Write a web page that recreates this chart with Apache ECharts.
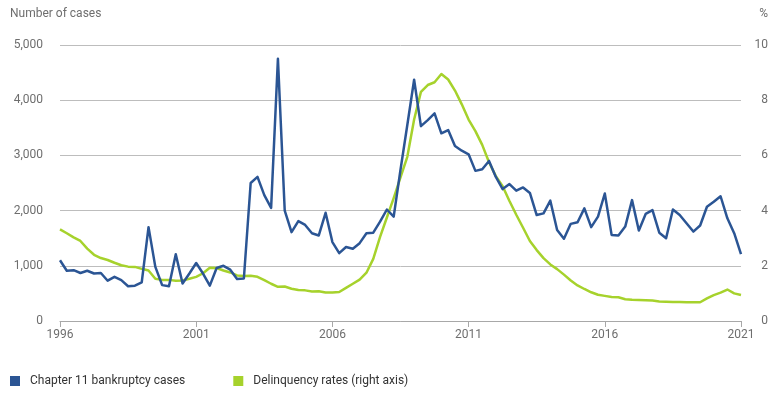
<!DOCTYPE html>
<html>
<head>
<meta charset="utf-8">
<script src="https://cdn.jsdelivr.net/npm/echarts@6/dist/echarts.min.js"></script>
<style>html,body{margin:0;padding:0;background:#fff}#c{width:782px;height:398px}</style>
</head>
<body>
<div id="c"></div>
<script>
const yearLabels = ['1996', '2001', '2006', '2011', '2016', '2021'];
const firstYear = 1996;
const quarterCount = 101;

const bankruptcyCases = [
  1100, 910, 920, 870, 910, 860, 870, 730, 800, 740,
  630, 640, 700, 1700, 980, 650, 630, 1210, 680, 860,
  1050, 860, 640, 960, 1000, 930, 760, 770, 2500, 2610,
  2280, 2050, 4750, 2000, 1610, 1810, 1740, 1590, 1550, 1960,
  1430, 1230, 1340, 1310, 1410, 1590, 1600, 1800, 2020, 1890,
  2740, 3550, 4370, 3530, 3640, 3760, 3400, 3460, 3170, 3085,
  3020, 2720, 2750, 2900, 2610, 2390, 2480, 2360, 2420, 2320,
  1920, 1950, 2180, 1650, 1490, 1760, 1790, 2040, 1700, 1890,
  2310, 1560, 1550, 1710, 2190, 1640, 1940, 2010, 1600, 1500,
  2020, 1920, 1770, 1620, 1730, 2070, 2160, 2260, 1860, 1590,
  1210
];

const delinquencyRates = [
  3.32, 3.18, 3.03, 2.90, 2.62, 2.40, 2.28, 2.21, 2.11, 2.02,
  1.97, 1.96, 1.89, 1.83, 1.53, 1.49, 1.49, 1.46, 1.47, 1.53,
  1.60, 1.73, 1.93, 1.92, 1.83, 1.76, 1.65, 1.63, 1.64, 1.60,
  1.48, 1.35, 1.24, 1.25, 1.17, 1.12, 1.11, 1.07, 1.08, 1.03,
  1.03, 1.05, 1.20, 1.35, 1.50, 1.75, 2.25, 3.05, 3.75, 4.45,
  5.20, 5.95, 7.30, 8.30, 8.55, 8.65, 8.95, 8.75, 8.35, 7.85,
  7.30, 6.88, 6.38, 5.75, 5.25, 4.88, 4.35, 3.85, 3.38, 2.90,
  2.57, 2.28, 2.05, 1.88, 1.68, 1.47, 1.29, 1.16, 1.04, 0.95,
  0.91, 0.87, 0.86, 0.79, 0.77, 0.76, 0.75, 0.74, 0.71, 0.70,
  0.69, 0.69, 0.68, 0.68, 0.68, 0.82, 0.94, 1.03, 1.14, 1.00,
  0.94
];

const categories = [];
for (let i = 0; i < quarterCount; i++) {
  categories.push((firstYear + Math.floor(i / 4)) + ' Q' + (i % 4 + 1));
}

const font = 'Roboto, "Liberation Sans", sans-serif';
const labelColor = '#6e6e6e';
const blue = '#2b5594';
const green = '#a6d22c';

const chart = echarts.init(document.getElementById('c'), null, {renderer: 'canvas'});
chart.setOption({
  animation: false,
  textStyle: {fontFamily: font},
  grid: {left: 60, right: 41, top: 45, bottom: 77, containLabel: false},
  xAxis: {
    type: 'category',
    data: categories,
    boundaryGap: false,
    axisLine: {lineStyle: {color: '#a8a8a8', width: 1}},
    axisTick: {
      show: true, length: 6, lineStyle: {color: '#a8a8a8'},
      interval: function (i) { return i % 20 === 0; }
    },
    axisLabel: {
      color: labelColor, fontSize: 12, fontFamily: font, margin: 8,
      interval: function (i) { return i % 20 === 0; },
      formatter: function (v, i) { return yearLabels[i / 20]; }
    },
    splitLine: {show: false}
  },
  yAxis: [
    {
      type: 'value', min: 0, max: 5000, interval: 1000,
      axisLine: {show: false}, axisTick: {show: false},
      axisLabel: {
        color: labelColor, fontSize: 12, fontFamily: font, margin: 17,
        formatter: function (v) { return v.toLocaleString('en-US'); }
      },
      splitLine: {lineStyle: {color: '#bdbdbd', width: 1}}
    },
    {
      type: 'value', min: 0, max: 10, interval: 2, position: 'right',
      axisLine: {show: false}, axisTick: {show: false},
      axisLabel: {color: labelColor, fontSize: 12, fontFamily: font, margin: 27, align: 'right'},
      splitLine: {show: false}
    }
  ],
  legend: {
    left: 5, top: 370, itemWidth: 10, itemHeight: 10, itemGap: 48,
    icon: 'rect',
    textStyle: {color: '#333', fontSize: 12, fontFamily: font, padding: [0, 0, 0, 5]},
    data: ['Chapter 11 bankruptcy cases', 'Delinquency rates (right axis)']
  },
  graphic: [
    {type: 'text', left: 10, top: 8, style: {text: 'Number of cases', fill: labelColor, font: '12px ' + font}},
    {type: 'text', right: 14, top: 8, style: {text: '%', fill: labelColor, font: '12px ' + font}}
  ],
  series: [
    {
      name: 'Chapter 11 bankruptcy cases', type: 'line', yAxisIndex: 0,
      data: bankruptcyCases, showSymbol: false, symbol: 'none',
      itemStyle: {color: blue},
      lineStyle: {color: blue, width: 2.5, join: 'round'}, z: 3
    },
    {
      name: 'Delinquency rates (right axis)', type: 'line', yAxisIndex: 1,
      data: delinquencyRates, showSymbol: false, symbol: 'none',
      itemStyle: {color: green},
      lineStyle: {color: green, width: 2.5, join: 'round'}, z: 2
    }
  ]
});
</script>
</body>
</html>
